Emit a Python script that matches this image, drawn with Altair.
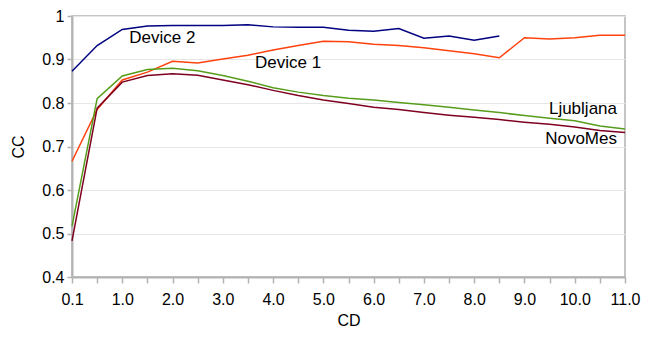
import altair as alt
import pandas as pd

categories = ["0.1", "0.5", "1.0", "1.5", "2.0", "2.5", "3.0", "3.5", "4.0", "4.5",
              "5.0", "5.5", "6.0", "6.5", "7.0", "7.5", "8.0", "8.5", "9.0", "9.5",
              "10.0", "10.5", "11.0"]

device2 = [0.873, 0.932, 0.969, 0.977, 0.978, 0.978, 0.978, 0.980, 0.975, 0.974,
           0.974, 0.967, 0.965, 0.971, 0.949, 0.954, 0.944, 0.954]
device1 = [0.666, 0.785, 0.853, 0.871, 0.896, 0.892, 0.901, 0.910, 0.922, 0.932,
           0.942, 0.941, 0.935, 0.932, 0.927, 0.920, 0.913, 0.904, 0.950, 0.947,
           0.950, 0.956, 0.956]
ljubljana = [0.517, 0.810, 0.862, 0.877, 0.880, 0.874, 0.863, 0.850, 0.835, 0.825,
             0.817, 0.811, 0.807, 0.801, 0.796, 0.790, 0.784, 0.778, 0.771, 0.765,
             0.759, 0.747, 0.740]
novomes = [0.483, 0.788, 0.848, 0.863, 0.867, 0.864, 0.853, 0.842, 0.829, 0.817,
           0.807, 0.799, 0.790, 0.785, 0.778, 0.772, 0.767, 0.762, 0.756, 0.751,
           0.745, 0.737, 0.732]

series_names = ["Device 2", "Device 1", "Ljubljana", "NovoMes"]
series_colors = ["#000080", "#ff420e", "#579d1c", "#7e0021"]

label_text = ["Device 2", "Device 1", "Ljubljana", "NovoMes"]
label_x = ["1.0", "3.5", "11.0", "11.0"]
label_y = [0.9375, 0.8804, 0.775, 0.705]

y_ticks = [0.4, 0.5, 0.6, 0.7, 0.8, 0.9, 1.0]

rows = []
for name, vals in zip(series_names, [device2, device1, ljubljana, novomes]):
    for i, v in enumerate(vals):
        rows.append({"CD": categories[i], "CC": v, "series": name, "order": i})
df = pd.DataFrame(rows)

FONT = "Liberation Sans"

x_enc = alt.X("CD:O", scale=alt.Scale(domain=categories, type="point", padding=0),
              sort=categories,
              axis=alt.Axis(title="CD", labelAngle=0,
                            labelExpr="indexof(datum.value, '.5') >= 0 ? '' : datum.label",
                            tickSize=6, labelPadding=8, titlePadding=5,
                            grid=False))
y_enc = alt.Y("CC:Q", scale=alt.Scale(domain=[0.4, 1.0], nice=False, zero=False),
              axis=alt.Axis(title="CC", values=y_ticks, format="~g", tickSize=5,
                            labelPadding=3, titlePadding=15, grid=True))

lines = alt.Chart(df).mark_line(strokeWidth=1.5).encode(
    x=x_enc,
    y=y_enc,
    color=alt.Color("series:N", scale=alt.Scale(domain=series_names, range=series_colors),
                    legend=None),
    order="order:Q",
)

lab_df = pd.DataFrame({"text": label_text, "CD": label_x, "CC": label_y})
left_labels = alt.Chart(lab_df.iloc[:2]).mark_text(
    align="left", baseline="alphabetic", fontSize=17, font=FONT, color="black", dx=7
).encode(x=alt.X("CD:O", sort=categories), y="CC:Q", text="text:N")
right_labels = alt.Chart(lab_df.iloc[2:]).mark_text(
    align="right", baseline="alphabetic", fontSize=17, font=FONT, color="black", dx=-8
).encode(x=alt.X("CD:O", sort=categories), y="CC:Q", text="text:N")

chart = alt.layer(lines, left_labels, right_labels).properties(
    width=553, height=261,
    autosize=alt.AutoSizeParams(type="none"),
    padding={"left": 64, "top": 8, "right": 16, "bottom": 52},
).configure_view(
    stroke="#b3b3b3", strokeWidth=1.5
).configure_axis(
    labelFont=FONT, titleFont=FONT, labelFontSize=16, titleFontSize=16,
    labelColor="black", titleColor="black", titleFontWeight="normal",
    domainColor="#b3b3b3", domainWidth=2, tickColor="#b3b3b3", tickWidth=1.5,
    gridColor="#e6e6e6", gridWidth=1
)

chart.save("out.html", embed_options={"renderer": "svg", "actions": False})
